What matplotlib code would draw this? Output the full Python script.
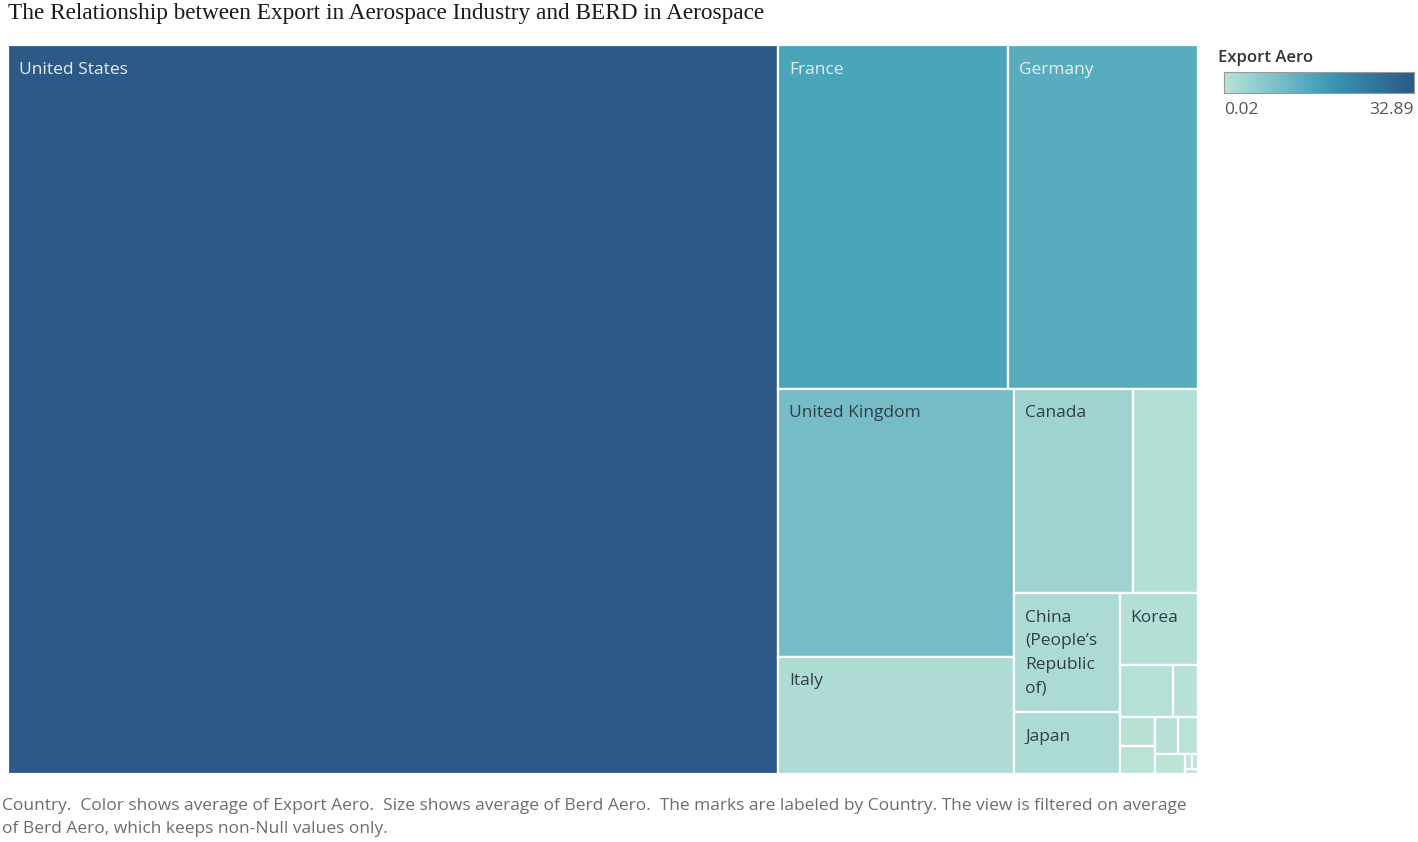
import matplotlib
matplotlib.use("Agg")
import matplotlib.pyplot as plt
from matplotlib.colors import LinearSegmentedColormap, Normalize
from matplotlib.patches import Rectangle
import numpy as np

# ---------------- data ----------------
countries = ["United States", "France", "Germany", "United Kingdom", "Italy",
             "Canada", "Spain", "China (People's Republic of)", "Japan", "Korea",
             "Netherlands", "Sweden", "Belgium", "Poland", "Czech Republic",
             "Norway", "Portugal", "Austria", "Finland", "Denmark"]
berd_aero = [13000, 1832, 1513, 1469, 641,
             564, 308, 290, 151, 130,
             65, 30, 23, 23, 20,
             17, 14, 2.4, 2.0, 1.6]
export_aero = [32.89, 15.8, 13.8, 9.9, 1.7,
               3.9, 1.1, 2.0, 2.2, 1.3,
               1.0, 0.6, 0.5, 0.3, 0.6,
               0.4, 0.2, 0.1, 0.05, 0.02]
labels = ["United States", "France", "Germany", "United Kingdom", "Italy",
          "Canada", "", "China\n(People\u2019s\nRepublic\nof)", "Japan", "Korea",
          "", "", "", "", "", "", "", "", "", ""]
light_labels = ["United States", "France", "Germany"]

title = "The Relationship between Export in Aerospace Industry and BERD in Aerospace"
footer_lines = ["Country.  Color shows average of Export Aero.  Size shows average of Berd Aero.  "
                "The marks are labeled by Country. The view is filtered on average",
                "of Berd Aero, which keeps non-Null values only."]
legend_title = "Export Aero"

blue_teal = ["#bce4d8", "#aedcd5", "#a1d5d2", "#95cecf", "#89c8cc", "#7ec1ca",
             "#72bac6", "#66b2c2", "#59acbe", "#4ba5ba", "#419eb6", "#3b96b2",
             "#358ead", "#3586a7", "#347ea1", "#32779b", "#316f96", "#2f6790",
             "#2d608a", "#2c5985"]

# ---------------- layout (squarified, golden ratio target) ----------------
PHI = (1 + 5 ** 0.5) / 2


def squarify(values, x0, y0, x1, y1, ratio=PHI):
    n = len(values)
    rects = [None] * n
    i0 = i1 = 0
    value = float(sum(values))
    while i0 < n:
        dx, dy = x1 - x0, y1 - y0
        sumv = values[i1]
        i1 += 1
        minv = maxv = sumv
        alpha = max(dy / dx, dx / dy) / (value * ratio)
        beta = sumv * sumv * alpha
        minratio = max(maxv / beta, beta / minv)
        while i1 < n:
            v = values[i1]
            s2 = sumv + v
            mn, mx = min(minv, v), max(maxv, v)
            beta = s2 * s2 * alpha
            newratio = max(mx / beta, beta / mn)
            if newratio > minratio:
                break
            sumv, minv, maxv, minratio = s2, mn, mx, newratio
            i1 += 1
        if dx < dy:
            h = dy * sumv / value
            xx = x0
            for k in range(i0, i1):
                w = dx * values[k] / sumv
                rects[k] = (xx, y0, w, h)
                xx += w
            y0 += h
        else:
            w = dx * sumv / value
            yy = y0
            for k in range(i0, i1):
                h = dy * values[k] / sumv
                rects[k] = (x0, yy, w, h)
                yy += h
            x0 += w
        value -= sumv
        i0 = i1
    return rects


W, H = 1418, 842
fig = plt.figure(figsize=(W / 100, H / 100), dpi=100)
fig.patch.set_facecolor("white")
renderer = fig.canvas.get_renderer()


def fit_width(txt, target_px):
    bb = txt.get_window_extent(renderer)
    txt.set_fontsize(txt.get_fontsize() * target_px / bb.width)


px_l, px_t, px_w, px_h = 8, 45, 1190, 729
ax = fig.add_axes([px_l / W, 1 - (px_t + px_h) / H, px_w / W, px_h / H])
ax.set_xlim(0, px_w)
ax.set_ylim(px_h, 0)
ax.axis("off")

cmap = LinearSegmentedColormap.from_list("blue_teal", blue_teal)
norm = Normalize(vmin=min(export_aero), vmax=max(export_aero))

rects = squarify(berd_aero, 0, 0, px_w, px_h)
for (x, y, w, h), val, lab in zip(rects, export_aero, labels):
    ax.add_patch(Rectangle((x, y), w, h, facecolor=cmap(norm(val)),
                           edgecolor="white", linewidth=1.6))
    if lab:
        col = "#e6edf3" if lab in light_labels else "#333d47"
        ax.text(x + 11, y + 16.5, lab, ha="left", va="top", fontsize=12.5,
                family="Open Sans", color=col, linespacing=1.62)

t_title = fig.text(8 / W, 1 - 19 / H, title, ha="left", va="baseline",
                   family="Liberation Serif", fontsize=16.5, color="#1a1a1a")
fit_width(t_title, 755)

foot_font = ["Liberation Sans Narrow", "Open Sans"]
f1 = fig.text(2 / W, 1 - 810 / H, footer_lines[0], ha="left", va="baseline",
              family=foot_font, fontsize=14, color="#6d6d6d")
fit_width(f1, 1190)
fig.text(2 / W, 1 - 833 / H, footer_lines[1], ha="left", va="baseline",
         family=foot_font, fontsize=f1.get_fontsize(), color="#6d6d6d")

# legend
fig.text(1218 / W, 1 - 62 / H, legend_title, ha="left", va="baseline",
         family="Open Sans", fontsize=12, color="#333333", fontweight="semibold")
cax = fig.add_axes([1224 / W, 1 - 93 / H, 190 / W, 21 / H])
grad = np.linspace(norm.vmin, norm.vmax, 256).reshape(1, -1)
cax.imshow(grad, aspect="auto", cmap=cmap, norm=norm,
           extent=[norm.vmin, norm.vmax, 0, 1])
cax.set_xticks([])
cax.set_yticks([])
for s in cax.spines.values():
    s.set_color("#9a9a9a")
    s.set_linewidth(0.8)
fig.text(1224 / W, 1 - 114 / H, f"{norm.vmin:.2f}", ha="left", va="baseline",
         family="Open Sans", fontsize=12.5, color="#555555")
fig.text(1414 / W, 1 - 114 / H, f"{norm.vmax:.2f}", ha="right", va="baseline",
         family="Open Sans", fontsize=12.5, color="#555555")

fig.savefig("out.png", dpi=100, facecolor="white")
